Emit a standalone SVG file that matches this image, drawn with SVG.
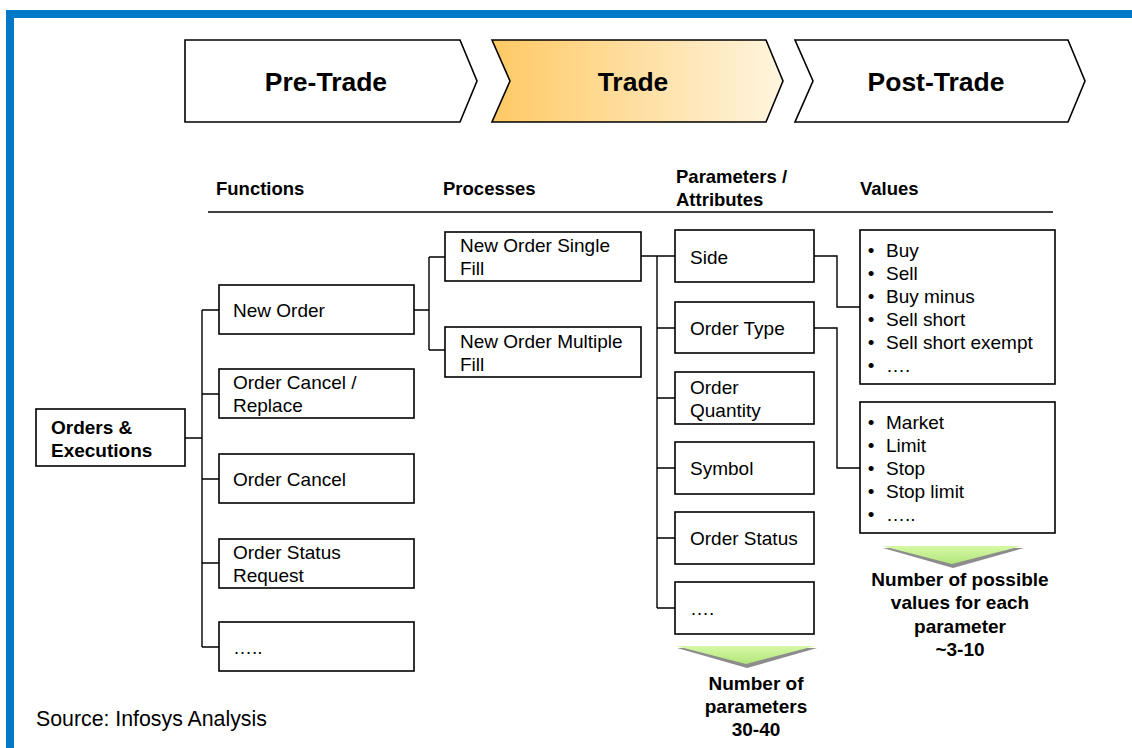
<svg xmlns="http://www.w3.org/2000/svg" width="1132" height="748" viewBox="0 0 1132 748">
<defs>
<linearGradient id="tradeGrad" x1="0" y1="0" x2="1" y2="0">
<stop offset="0" stop-color="#FFC964"/>
<stop offset="1" stop-color="#FFF5DF"/>
</linearGradient>
<linearGradient id="greenGrad" x1="0" y1="0" x2="0" y2="1">
<stop offset="0" stop-color="#D6F8A6"/>
<stop offset="1" stop-color="#B2E67A"/>
</linearGradient>
<style>
.box{fill:#fff;stroke:#000;stroke-width:1.6}
.chev{stroke:#000;stroke-width:1.6;stroke-linejoin:miter}
.t{font-family:"Liberation Sans",Arial,sans-serif;font-size:19px;fill:#000}
.b{font-family:"Liberation Sans",Arial,sans-serif;font-size:19px;font-weight:bold;fill:#000}
.h{font-family:"Liberation Sans",Arial,sans-serif;font-size:18.5px;font-weight:bold;fill:#000}
.big{font-family:"Liberation Sans",Arial,sans-serif;font-size:26.5px;font-weight:bold;fill:#000;text-anchor:middle}
.c{text-anchor:middle}
.conn{fill:none;stroke:#000;stroke-width:1.4}
.shadow{fill:#8c8c8c}
.tri{fill:url(#greenGrad)}
</style>
</defs>
<rect x="0" y="0" width="1132" height="748" fill="#fff"/>
<g id="frame">
<rect x="6" y="10" width="1126" height="8" fill="#0078C8"/>
<rect x="6" y="10" width="8" height="738" fill="#0078C8"/>
</g>
<g id="phase-pre-trade">
<path class="chev" fill="#fff" d="M185,40 L460,40 L477,81 L460,122 L185,122 Z"/>
<text class="big" x="326" y="91">Pre-Trade</text>
</g>
<g id="phase-trade">
<path class="chev" fill="url(#tradeGrad)" d="M492,40 L766,40 L783,81 L766,122 L492,122 L510,81 Z"/>
<text class="big" x="633" y="91">Trade</text>
</g>
<g id="phase-post-trade">
<path class="chev" fill="#fff" d="M795,40 L1068,40 L1085,81 L1068,122 L795,122 L813,81 Z"/>
<text class="big" x="936" y="91">Post-Trade</text>
</g>
<g id="column-headers">
<text class="h" x="216" y="195">Functions</text>
<text class="h" x="443" y="195">Processes</text>
<text class="h" x="676" y="183">Parameters /</text>
<text class="h" x="676" y="206">Attributes</text>
<text class="h" x="860" y="195">Values</text>
<line x1="208" y1="212" x2="1053" y2="212" stroke="#000" stroke-width="1.6"/>
</g>
<g id="connectors">
<path class="conn" d="M185,438 H202 M202,310 V647 M202,310 H219 M202,394 H219 M202,479 H219 M202,563 H219 M202,647 H219"/>
<path class="conn" d="M414,310 H429 M429,257 V350 M429,257 H445 M429,350 H445"/>
<path class="conn" d="M641,256 H657 M657,256 V608 M657,256 H675 M657,328 H675 M657,398 H675 M657,468 H675 M657,538 H675 M657,608 H675"/>
<path class="conn" d="M814,256 H837 V307 H860 M814,328 H837 V468 H860"/>
</g>
<g id="node-orders-executions">
<rect class="box" x="36" y="409" width="149" height="57"/>
<text class="b" x="51" y="434">Orders &amp;</text>
<text class="b" x="51" y="457">Executions</text>
</g>
<g id="node-new-order">
<rect class="box" x="219" y="285" width="195" height="49"/>
<text class="t" x="233" y="317">New Order</text>
</g>
<g id="node-order-cancel-replace">
<rect class="box" x="219" y="369" width="195" height="49"/>
<text class="t" x="233" y="389">Order Cancel /</text>
<text class="t" x="233" y="412">Replace</text>
</g>
<g id="node-order-cancel">
<rect class="box" x="219" y="454" width="195" height="49"/>
<text class="t" x="233" y="486">Order Cancel</text>
</g>
<g id="node-order-status-request">
<rect class="box" x="219" y="539" width="195" height="49"/>
<text class="t" x="233" y="559">Order Status</text>
<text class="t" x="233" y="582">Request</text>
</g>
<g id="node-functions-more">
<rect class="box" x="219" y="622" width="195" height="49"/>
<text class="t" x="233" y="654">…..</text>
</g>
<g id="node-new-order-single-fill">
<rect class="box" x="445" y="232" width="196" height="49"/>
<text class="t" x="460" y="252">New Order Single</text>
<text class="t" x="460" y="275">Fill</text>
</g>
<g id="node-new-order-multiple-fill">
<rect class="box" x="445" y="327" width="196" height="50"/>
<text class="t" x="460" y="348">New Order Multiple</text>
<text class="t" x="460" y="371">Fill</text>
</g>
<g id="node-side">
<rect class="box" x="675" y="230" width="139" height="52"/>
<text class="t" x="690" y="264">Side</text>
</g>
<g id="node-order-type">
<rect class="box" x="675" y="302" width="139" height="51"/>
<text class="t" x="690" y="335">Order Type</text>
</g>
<g id="node-order-quantity">
<rect class="box" x="675" y="372" width="139" height="52"/>
<text class="t" x="690" y="394">Order</text>
<text class="t" x="690" y="417">Quantity</text>
</g>
<g id="node-symbol">
<rect class="box" x="675" y="442" width="139" height="52"/>
<text class="t" x="690" y="475">Symbol</text>
</g>
<g id="node-order-status">
<rect class="box" x="675" y="512" width="139" height="52"/>
<text class="t" x="690" y="545">Order Status</text>
</g>
<g id="node-params-more">
<rect class="box" x="675" y="582" width="139" height="52"/>
<text class="t" x="690" y="615">….</text>
</g>
<g id="node-side-values">
<rect class="box" x="860" y="230" width="195" height="154"/>
<text class="t c" x="871" y="257">•</text><text class="t" x="886" y="257">Buy</text>
<text class="t c" x="871" y="280">•</text><text class="t" x="886" y="280">Sell</text>
<text class="t c" x="871" y="303">•</text><text class="t" x="886" y="303">Buy minus</text>
<text class="t c" x="871" y="326">•</text><text class="t" x="886" y="326">Sell short</text>
<text class="t c" x="871" y="349">•</text><text class="t" x="886" y="349">Sell short exempt</text>
<text class="t c" x="871" y="372">•</text><text class="t" x="886" y="372">….</text>
</g>
<g id="node-order-type-values">
<rect class="box" x="860" y="402" width="195" height="131"/>
<text class="t c" x="871" y="429">•</text><text class="t" x="886" y="429">Market</text>
<text class="t c" x="871" y="452">•</text><text class="t" x="886" y="452">Limit</text>
<text class="t c" x="871" y="475">•</text><text class="t" x="886" y="475">Stop</text>
<text class="t c" x="871" y="498">•</text><text class="t" x="886" y="498">Stop limit</text>
<text class="t c" x="871" y="521">•</text><text class="t" x="886" y="521">…..</text>
</g>
<g id="note-parameters">
<polygon class="shadow" points="677,648 817,648 747,668"/>
<polygon class="tri" points="676,646 815,646 746,664"/>
<text class="b c" x="756" y="690">Number of</text>
<text class="b c" x="756" y="713">parameters</text>
<text class="b c" x="756" y="736">30-40</text>
</g>
<g id="note-values">
<polygon class="shadow" points="883,548 1024,548 953,568"/>
<polygon class="tri" points="882,546 1022,546 952,564"/>
<text class="b c" x="960" y="586">Number of possible</text>
<text class="b c" x="960" y="609">values for each</text>
<text class="b c" x="960" y="633">parameter</text>
<text class="b c" x="960" y="656">~3-10</text>
</g>
<g id="source">
<text class="t" x="36" y="726" style="font-size:21.3px">Source: Infosys Analysis</text>
</g>
</svg>
